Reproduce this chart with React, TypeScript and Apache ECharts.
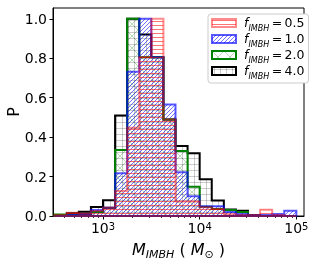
import React, { useEffect, useRef } from 'react';
import * as echarts from 'echarts';

// Bin edges (M_IMBH in solar masses)
const binEdges = [316, 422, 562, 750, 1000, 1334, 1778, 2371, 3162, 4217, 5623, 7499, 10000, 13335, 17783, 23714, 31623, 42170, 56234, 74989, 100000];

// Normalised histogram heights P for each f_IMBH
const fLabels = ['0.5', '1.0', '2.0', '4.0'];
const pF05 = [0.005, 0.017, 0.012, 0.025, 0.042, 0.127, 0.448, 0.805, 1.0, 0.49, 0.073, 0.073, 0.044, 0.035, 0.01, 0.005, 0.005, 0.032, 0.005, 0.0];
const pF10 = [0.0, 0.005, 0.01, 0.03, 0.042, 0.217, 0.732, 1.0, 0.805, 0.565, 0.222, 0.1, 0.05, 0.05, 0.02, 0.01, 0.005, 0.005, 0.01, 0.027];
const pF20 = [0.008, 0.008, 0.01, 0.02, 0.04, 0.335, 1.0, 0.805, 0.805, 0.49, 0.33, 0.148, 0.047, 0.035, 0.03, 0.02, 0.005, 0.0, 0.0, 0.0];
const pF40 = [0.005, 0.014, 0.022, 0.046, 0.08, 0.51, 1.0, 0.92, 0.805, 0.49, 0.355, 0.318, 0.187, 0.079, 0.033, 0.027, 0.0, 0.0, 0.0, 0.0];

const yTicks = [0, 0.2, 0.4, 0.6, 0.8, 1.0];
const xMajorTicks = [1000, 10000, 100000];
const xMinorTicks = [400, 500, 600, 700, 800, 900, 2000, 3000, 4000, 5000, 6000, 7000, 8000, 9000, 20000, 30000, 40000, 50000, 60000, 70000, 80000, 90000];

const X_MIN = 304;
const X_MAX = 120000;
const Y_MAX = 1.055;
const FONT = 'DejaVu Sans';

const lg = (v: number) => Math.log10(v);

function makeHatch(kind: string, color: string) {
  const c = document.createElement('canvas');
  let w = 4, h = 4;
  if (kind === 'x') { w = 12; h = 12; }
  if (kind === '+') { w = 6; h = 6; }
  c.width = w; c.height = h;
  const ctx = c.getContext('2d')!;
  ctx.strokeStyle = color;
  ctx.fillStyle = color;
  ctx.lineWidth = 1;
  if (kind === '-') {
    ctx.fillRect(0, 1, w, 1);
  } else if (kind === '/') {
    ctx.beginPath();
    for (const o of [-w, 0, w]) { ctx.moveTo(o, h); ctx.lineTo(o + w, 0); }
    ctx.stroke();
  } else if (kind === 'x') {
    ctx.beginPath();
    for (const o of [-w, 0, w]) {
      ctx.moveTo(o, 0); ctx.lineTo(o + w, h);
      ctx.moveTo(o, h); ctx.lineTo(o + w, 0);
    }
    ctx.stroke();
  } else if (kind === '+') {
    ctx.fillRect(0, 2, w, 1);
    ctx.fillRect(2, 0, 1, h);
  }
  return { image: c, repeat: 'repeat', imageWidth: w, imageHeight: h } as any;
}

export default function App() {
  const ref = useRef<HTMLDivElement>(null);
  useEffect(() => {
    if (!ref.current) return;
    const chart = echarts.init(ref.current, undefined, { renderer: 'svg' });

    const defs = [
      { name: fLabels[3], vals: pF40, stroke: '#000000', hatch: makeHatch('+', 'rgba(0,0,0,0.2)') },
      { name: fLabels[2], vals: pF20, stroke: '#008000', hatch: makeHatch('x', 'rgba(0,128,0,0.28)') },
      { name: fLabels[1], vals: pF10, stroke: 'rgba(0,0,255,0.65)', hatch: makeHatch('/', 'rgba(0,0,255,0.55)') },
      { name: fLabels[0], vals: pF05, stroke: 'rgba(255,0,0,0.45)', hatch: makeHatch('-', 'rgba(255,0,0,0.55)') },
    ];

    const series = defs.map((d) => ({
      type: 'custom',
      name: d.name,
      coordinateSystem: 'cartesian2d',
      xAxisIndex: 0,
      yAxisIndex: 0,
      data: [[0, 0]],
      itemStyle: { color: d.hatch, borderColor: d.stroke },
      renderItem: (_params: any, api: any) => {
        const pts: number[][] = [];
        pts.push(api.coord([lg(binEdges[0]), 0]));
        for (let i = 0; i < d.vals.length; i++) {
          pts.push(api.coord([lg(binEdges[i]), d.vals[i]]));
          pts.push(api.coord([lg(binEdges[i + 1]), d.vals[i]]));
        }
        pts.push(api.coord([lg(binEdges[d.vals.length]), 0]));
        return {
          type: 'group',
          children: [
            { type: 'polygon', shape: { points: pts }, style: { fill: d.hatch, stroke: null } },
            { type: 'polygon', shape: { points: pts }, style: { fill: 'none', stroke: d.stroke, lineWidth: 2, lineJoin: 'miter' } },
          ],
        };
      },
    }));

    const legendOrder = [3, 2, 1, 0];

    chart.setOption({
      animation: false,
      grid: { left: 53, top: 8, right: 13, bottom: 45, containLabel: false, outerBoundsMode: 'none', show: true, borderColor: '#000', borderWidth: 1, backgroundColor: 'transparent' },
      xAxis: [
        {
          type: 'value', min: lg(X_MIN), max: lg(X_MAX), position: 'bottom',
          splitLine: { show: false },
          axisLine: { show: true, lineStyle: { color: '#000', width: 1 } },
          axisTick: { show: true, customValues: xMajorTicks.map(lg), length: 3.5, lineStyle: { color: '#000', width: 1 } },
          axisLabel: {
            show: true, customValues: xMajorTicks.map(lg), margin: 5,
            formatter: (v: number) => `{b|10}{s|${Math.round(v)}}`,
            rich: {
              b: { fontFamily: FONT, fontSize: 14, lineHeight: 14, verticalAlign: 'bottom', color: '#000' },
              s: { fontFamily: FONT, fontSize: 10, lineHeight: 10, verticalAlign: 'top', padding: [0, 0, 6, 0], color: '#000' },
            },
          },
          name: '{m|M}{s|IMBH}{n| ( }{m|M}{s|⊙}{n| )}',
          nameLocation: 'middle',
          nameGap: 25,
          nameMoveOverlap: false,
          nameTextStyle: {
            rich: {
              m: { fontFamily: FONT, fontStyle: 'italic', fontSize: 16, lineHeight: 18, verticalAlign: 'top', color: '#000' },
              n: { fontFamily: FONT, fontSize: 16, lineHeight: 18, verticalAlign: 'top', color: '#000' },
              s: { fontFamily: FONT, fontStyle: 'italic', fontSize: 11, lineHeight: 11, verticalAlign: 'top', padding: [8, 0, 0, 0], color: '#000' },
            },
          },
        },
        {
          type: 'value', min: lg(X_MIN), max: lg(X_MAX), position: 'bottom',
          splitLine: { show: false },
          axisLine: { show: false },
          axisTick: { show: true, customValues: xMinorTicks.map(lg), length: 2, lineStyle: { color: '#000', width: 0.8 } },
          axisLabel: { show: false },
        },
      ],
      yAxis: {
        type: 'value', min: 0, max: Y_MAX,
        splitLine: { show: false },
        axisLine: { show: true, lineStyle: { color: '#000', width: 1 } },
        axisTick: { show: true, customValues: yTicks, length: 3.5, lineStyle: { color: '#000', width: 1 } },
        axisLabel: { show: true, customValues: yTicks, margin: 6, formatter: (v: number) => v.toFixed(1), fontFamily: FONT, fontSize: 14, color: '#000' },
        name: 'P', nameLocation: 'middle', nameGap: 32, nameMoveOverlap: false,
        nameTextStyle: { fontFamily: FONT, fontSize: 16, color: '#000' },
      },
      legend: {
        orient: 'vertical',
        left: 208, top: 14, z: 10,
        itemWidth: 24, itemHeight: 8, itemGap: 0,
        padding: [2, 4, 3, 3],
        backgroundColor: '#fff',
        borderColor: '#cccccc', borderWidth: 1, borderRadius: 3,
        data: legendOrder.map((i) => ({
          name: defs[i].name,
          icon: 'rect',
          itemStyle: { color: defs[i].hatch, borderColor: defs[i].stroke, borderWidth: 2 },
        })),
        formatter: (name: string) => `{f|f}{s|IMBH}{n|\u2009=\u2009${name}}`,
        textStyle: {
          rich: {
            f: { fontFamily: FONT, fontStyle: 'italic', fontSize: 12.5, lineHeight: 14, verticalAlign: 'top', padding: [0, 0, 0, 3], color: '#000' },
            n: { fontFamily: FONT, fontSize: 12.5, lineHeight: 14, verticalAlign: 'top', color: '#000' },
            s: { fontFamily: FONT, fontStyle: 'italic', fontSize: 8, lineHeight: 8, verticalAlign: 'top', padding: [8, 0, 0, 0], color: '#000' },
          },
        },
      },
      series,
    });

    return () => chart.dispose();
  }, []);

  return <div ref={ref} style={{ position: 'fixed', left: 0, top: 0, width: 317, height: 261 }} />;
}
